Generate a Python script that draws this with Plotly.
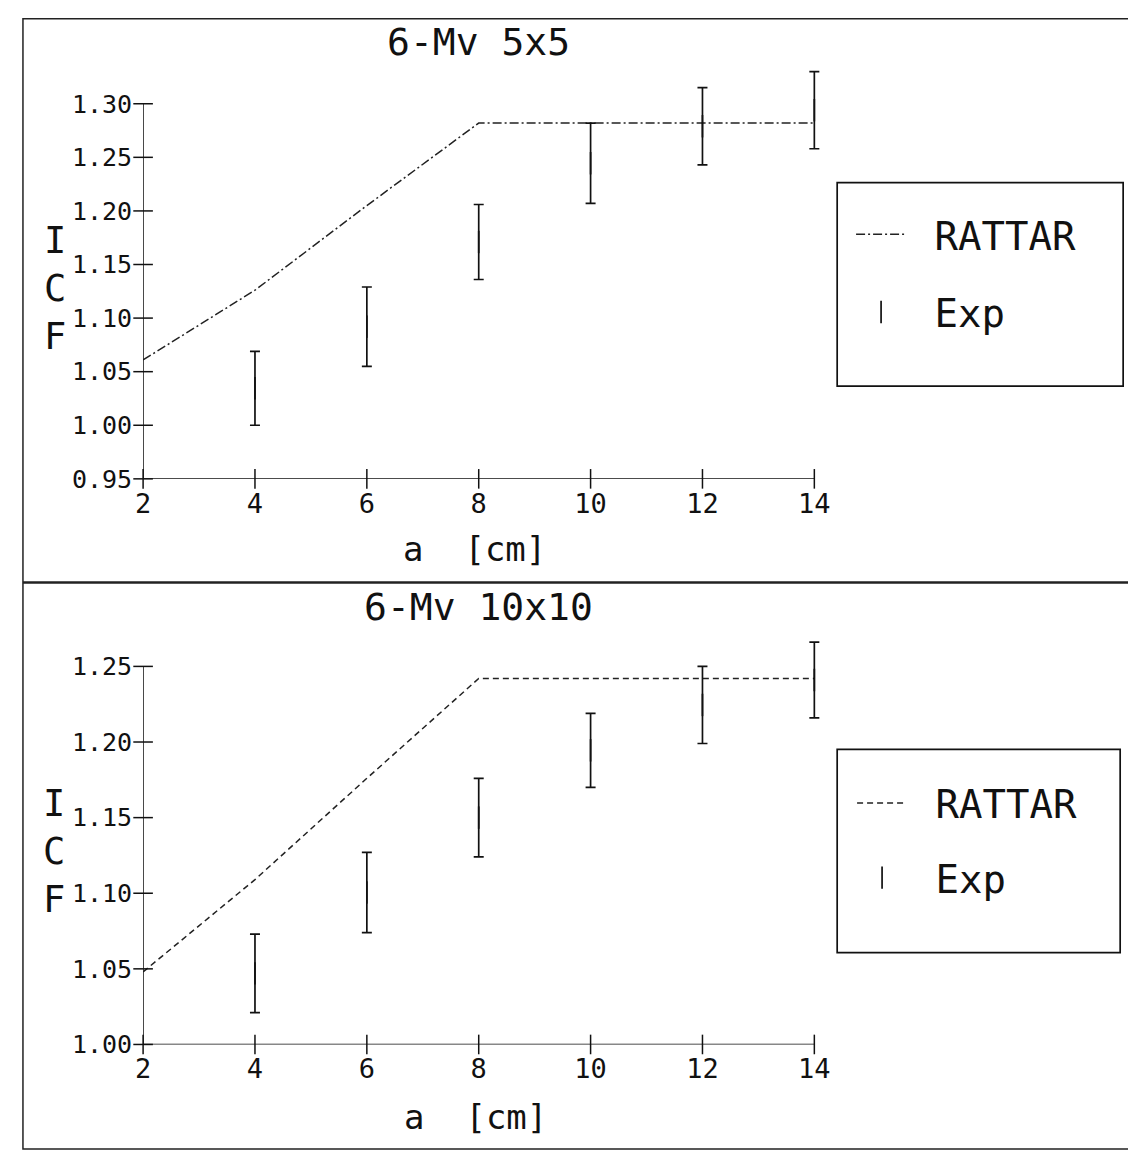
import plotly.graph_objects as go

W, H = 1136, 1163
FONT = "DejaVu Sans Mono"
INK = "#111111"

# ---------------- data ----------------
x_ticks = [2, 4, 6, 8, 10, 12, 14]

top_title = "6-Mv 5x5"
top_y_ticks = [0.95, 1.00, 1.05, 1.10, 1.15, 1.20, 1.25, 1.30]
top_rattar_x = [2, 4, 6, 8, 10, 12, 14]
top_rattar_y = [1.061, 1.126, 1.205, 1.282, 1.282, 1.282, 1.282]
top_exp_x = [4, 6, 8, 10, 12, 14]
top_exp_lo = [1.000, 1.055, 1.136, 1.207, 1.243, 1.258]
top_exp_hi = [1.069, 1.129, 1.206, 1.282, 1.315, 1.330]

bot_title = "6-Mv 10x10"
bot_y_ticks = [1.00, 1.05, 1.10, 1.15, 1.20, 1.25]
bot_rattar_x = [2, 4, 6, 8, 10, 12, 14]
bot_rattar_y = [1.048, 1.109, 1.176, 1.242, 1.242, 1.242, 1.242]
bot_exp_x = [4, 6, 8, 10, 12, 14]
bot_exp_lo = [1.021, 1.074, 1.124, 1.170, 1.199, 1.216]
bot_exp_hi = [1.073, 1.127, 1.176, 1.219, 1.250, 1.266]

x_label = "a  [cm]"
y_label = "I<br>C<br>F"
legend_names = ["\u00a0RATTAR", "\u00a0Exp"]


# ---------------- helpers (pixel -> paper) ----------------
def fx(p):
    return p / W


def fy(p):
    return 1 - p / H


# x axis: tick 2 at px 128, tick 14 at px 804
X_LO_PX, X_HI_PX = 128, 804
ux = (X_HI_PX - X_LO_PX) / (x_ticks[-1] - x_ticks[0])
x_range = [x_ticks[0], x_ticks[-1] + 0.45]
x_dom = [fx(X_LO_PX), fx(X_LO_PX + (x_range[1] - x_range[0]) * ux)]

# top y axis: 0.95 at px 477, 1.30 at px 97
T_LO_PX, T_HI_PX = 477, 97
uy_t = (T_LO_PX - T_HI_PX) / (top_y_ticks[-1] - top_y_ticks[0])
top_range = [top_y_ticks[0], 1.345]
top_dom = [fy(T_LO_PX), fy(T_LO_PX - (top_range[1] - top_range[0]) * uy_t)]

# bottom y axis: 1.00 at px 1050, 1.25 at px 667
B_LO_PX, B_HI_PX = 1050, 667
uy_b = (B_LO_PX - B_HI_PX) / (bot_y_ticks[-1] - bot_y_ticks[0])
bot_range = [bot_y_ticks[0], 1.28]
bot_dom = [fy(B_LO_PX), fy(B_LO_PX - (bot_range[1] - bot_range[0]) * uy_b)]

fig = go.Figure()


def add_panel(xa, ya, leg, rx, ry, dash, ex, elo, ehi, yt, grp):
    centers = [(a + b) / 2 for a, b in zip(elo, ehi)]
    halves = [(b - a) / 2 for a, b in zip(elo, ehi)]
    fig.add_trace(go.Scatter(
        x=rx, y=ry, mode="lines", name=legend_names[0],
        line=dict(color="#222222", width=1.5, dash=dash),
        xaxis=xa, yaxis=ya, legend=leg, legendgroup=grp + "r",
        hoverinfo="skip", cliponaxis=False))
    fig.add_trace(go.Scatter(
        x=ex, y=centers, mode="markers", name=legend_names[1],
        marker=dict(symbol="line-ns-open", size=16, color=INK,
                    line=dict(width=1.7, color=INK)),
        error_y=dict(type="data", array=halves, visible=True,
                     thickness=1.7, width=5, color=INK),
        xaxis=xa, yaxis=ya, legend=leg, legendgroup=grp + "e",
        hoverinfo="skip", cliponaxis=False))
    # crossing tick marks on the axes
    fig.add_trace(go.Scatter(
        x=[x_ticks[0]] * len(yt), y=yt, mode="markers", showlegend=False,
        marker=dict(symbol="line-ew-open", size=14, color=INK,
                    line=dict(width=1.5, color=INK)),
        xaxis=xa, yaxis=ya, hoverinfo="skip", cliponaxis=False))
    fig.add_trace(go.Scatter(
        x=x_ticks, y=[yt[0]] * len(x_ticks), mode="markers", showlegend=False,
        marker=dict(symbol="line-ns-open", size=14, color=INK,
                    line=dict(width=1.5, color=INK)),
        xaxis=xa, yaxis=ya, hoverinfo="skip", cliponaxis=False))


add_panel("x", "y", "legend", top_rattar_x, top_rattar_y, "9px,3px,2px,3px",
          top_exp_x, top_exp_lo, top_exp_hi, top_y_ticks, "t")
add_panel("x2", "y2", "legend2", bot_rattar_x, bot_rattar_y, "6px,4px",
          bot_exp_x, bot_exp_lo, bot_exp_hi, bot_y_ticks, "b")

ytickfont = dict(family=FONT, size=25, color=INK)
xtickfont = dict(family=FONT, size=27, color=INK)
xcommon = dict(range=x_range, domain=x_dom, tickvals=x_ticks,
               ticktext=[str(v) for v in x_ticks], showline=False,
               showgrid=False, zeroline=False, ticks="", tickfont=xtickfont,
               ticklabelstandoff=6)


def ycommon(rng, dom, ticks, anchor):
    return dict(range=rng, domain=dom, tickvals=ticks,
                ticktext=[f"{v:.2f}" for v in ticks], showline=False,
                showgrid=False, zeroline=False, ticks="", tickfont=ytickfont,
                ticklabelstandoff=10, anchor=anchor)


legfont = dict(family=FONT, size=39, color=INK)
legcommon = dict(font=legfont, bgcolor="rgba(0,0,0,0)", borderwidth=0,
                 itemwidth=50, traceorder="grouped",
                 xanchor="left", yanchor="top")

shapes = []
# outer frame and divider
shapes.append(dict(type="rect", xref="paper", yref="paper",
                   x0=fx(7), x1=fx(1130), y0=fy(1156), y1=fy(11),
                   line=dict(color="#222222", width=1.5)))
shapes.append(dict(type="line", xref="paper", yref="paper",
                   x0=fx(7), x1=fx(1130), y0=fy(582), y1=fy(582),
                   line=dict(color="#222222", width=2.5)))
# legend boxes
shapes.append(dict(type="rect", xref="paper", yref="paper",
                   x0=fx(827), x1=fx(1115), y0=fy(383), y1=fy(177),
                   line=dict(color=INK, width=1.7)))
shapes.append(dict(type="rect", xref="paper", yref="paper",
                   x0=fx(827), x1=fx(1112), y0=fy(957), y1=fy(751),
                   line=dict(color=INK, width=1.7)))
# axis lines
for xa, ya, yt in (("x", "y", top_y_ticks), ("x2", "y2", bot_y_ticks)):
    shapes.append(dict(type="line", xref=xa, yref=ya, x0=x_ticks[0],
                       x1=x_ticks[-1], y0=yt[0], y1=yt[0],
                       line=dict(color=INK, width=1.5)))
    shapes.append(dict(type="line", xref=xa, yref=ya, x0=x_ticks[0],
                       x1=x_ticks[0], y0=yt[0], y1=yt[-1],
                       line=dict(color=INK, width=1.5)))

big = dict(family=FONT, size=38, color=INK)
lab = dict(family=FONT, size=34, color=INK)
ylab = dict(family=FONT, size=37, color=INK)
annotations = [
    dict(text=top_title, x=fx(466), y=fy(34), xref="paper", yref="paper",
         showarrow=False, font=big, xanchor="center", yanchor="middle"),
    dict(text=bot_title, x=fx(466), y=fy(607), xref="paper", yref="paper",
         showarrow=False, font=big, xanchor="center", yanchor="middle"),
    dict(text=x_label, x=fx(462), y=fy(548), xref="paper", yref="paper",
         showarrow=False, font=lab, xanchor="center", yanchor="middle"),
    dict(text=x_label, x=fx(463), y=fy(1123), xref="paper", yref="paper",
         showarrow=False, font=lab, xanchor="center", yanchor="middle"),
    dict(text=y_label, x=fx(39), y=fy(284), xref="paper", yref="paper",
         showarrow=False, font=ylab, xanchor="center", yanchor="middle"),
    dict(text=y_label, x=fx(38), y=fy(855), xref="paper", yref="paper",
         showarrow=False, font=ylab, xanchor="center", yanchor="middle"),
]

fig.update_layout(
    width=W, height=H, autosize=False,
    margin=dict(l=0, r=0, t=0, b=0),
    paper_bgcolor="white", plot_bgcolor="white",
    xaxis=dict(**xcommon, anchor="y"),
    yaxis=ycommon(top_range, top_dom, top_y_ticks, "x"),
    xaxis2=dict(**xcommon, anchor="y2"),
    yaxis2=ycommon(bot_range, bot_dom, bot_y_ticks, "x2"),
    legend=dict(**legcommon, x=fx(841), y=fy(197), tracegroupgap=24),
    legend2=dict(**legcommon, x=fx(842), y=fy(773), tracegroupgap=21),
    shapes=shapes,
    annotations=annotations,
    showlegend=True,
)

fig.write_html("out.html")
